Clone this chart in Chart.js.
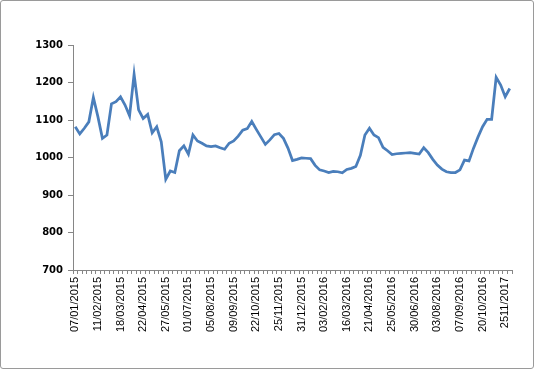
<!DOCTYPE html>
<html>
<head>
<meta charset="utf-8">
<script src="https://cdn.jsdelivr.net/npm/chart.js@4/dist/chart.umd.min.js"></script>
<style>
  html, body { margin: 0; padding: 0; background: #fff; }
  #wrap { position: absolute; left: 0; top: 0; width: 532px; height: 367px; border: 1px solid #9a9a9a; border-radius: 3px; background: #fff; }
  canvas { display: block; }
</style>
</head>
<body>
<div id="wrap"><canvas id="c" width="532" height="367"></canvas></div>
<script>
// Tick labels shown on the x axis (one every 5 data points)
const tickLabels = [
  "07/01/2015", "11/02/2015", "18/03/2015", "22/04/2015", "27/05/2015",
  "01/07/2015", "05/08/2015", "09/09/2015", "22/10/2015", "25/11/2015",
  "31/12/2015", "03/02/2016", "16/03/2016", "21/04/2016", "25/05/2016",
  "30/06/2016", "03/08/2016", "07/09/2016", "20/10/2016", "2511/2017"
];
const labelEvery = 5;

// Series values (weekly observations)
const values = [
  1082, 1063, 1078, 1095, 1160, 1109, 1051, 1060, 1143, 1149,
  1162, 1140, 1111, 1222, 1127, 1104, 1115, 1066, 1082, 1042,
  942, 964, 960, 1018, 1031, 1009, 1060, 1044, 1038, 1031,
  1029, 1031, 1026, 1022, 1038, 1044, 1057, 1073, 1077, 1096,
  1075, 1055, 1035, 1047, 1061, 1064, 1051, 1025, 992, 995,
  999, 998, 997, 979, 967, 964, 960, 963, 962, 959,
  968, 971, 976, 1006, 1060, 1078, 1060, 1053, 1027, 1018,
  1008, 1010, 1011, 1012, 1013, 1011, 1009, 1026, 1013, 995,
  980, 969, 962, 960, 960, 967, 993, 991, 1025, 1055,
  1082, 1102, 1102, 1214, 1193, 1162, 1184
];

const yMin = 700, yMax = 1300, yStep = 100;

const categories = values.map((_, i) => (i % labelEvery === 0 && tickLabels[i / labelEvery]) ? tickLabels[i / labelEvery] : "");

new Chart(document.getElementById("c"), {
  type: "line",
  data: {
    labels: categories,
    datasets: [{
      data: values,
      borderColor: "#4A7EBB",
      borderWidth: 2.75,
      pointRadius: 0,
      tension: 0,
      fill: false
    }]
  },
  options: {
    responsive: false,
    animation: false,
    plugins: { legend: { display: false }, tooltip: { enabled: false } },
    layout: { padding: { top: 44, right: 21, bottom: 0, left: 0 } },
    scales: {
      x: {
        type: "category",
        offset: true,
        grid: { display: true, drawOnChartArea: false, drawTicks: true, tickLength: 4, color: "#868686", offset: true },
        border: { display: true, color: "#868686", width: 1 },
        ticks: {
          autoSkip: false,
          maxRotation: 90,
          minRotation: 90,
          padding: 3,
          color: "#000",
          font: { family: "Liberation Sans", size: 11 }
        },
        afterFit: (s) => { s.height = 98; }
      },
      y: {
        min: yMin,
        max: yMax,
        grid: { display: true, drawOnChartArea: false, drawTicks: true, tickLength: 5, color: "#868686" },
        border: { display: true, color: "#868686", width: 1 },
        ticks: {
          stepSize: yStep,
          padding: 5,
          color: "#000",
          font: { family: "DejaVu Sans", size: 10, weight: "bold" },
          callback: (v) => String(v)
        },
        afterFit: (s) => { s.width = 72; }
      }
    }
  }
});
</script>
</body>
</html>
